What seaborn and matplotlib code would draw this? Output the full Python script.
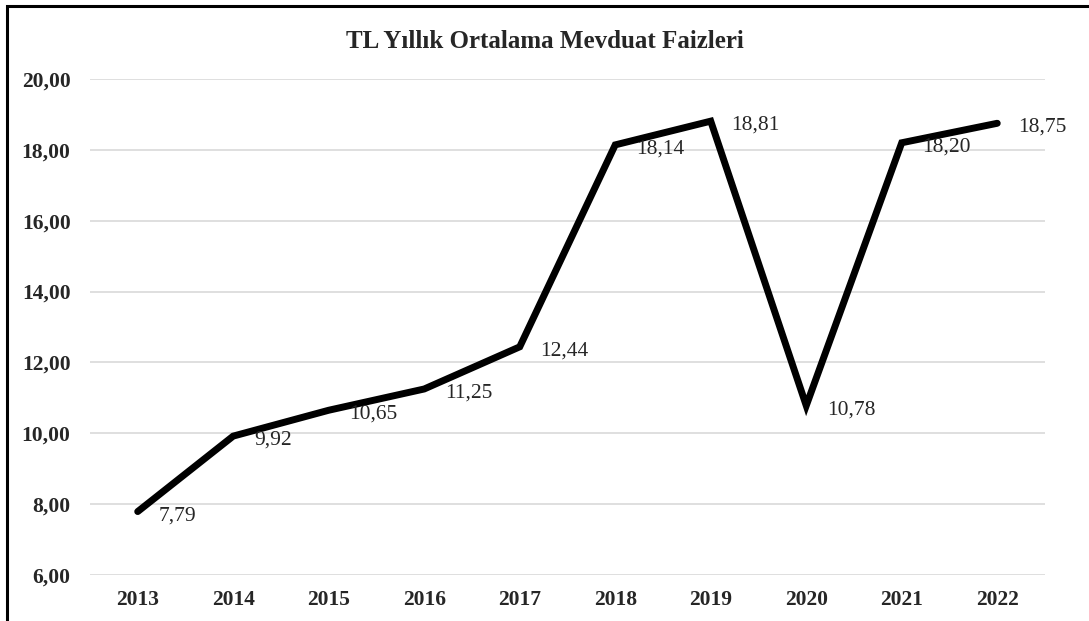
import matplotlib
matplotlib.use("Agg")
import matplotlib.pyplot as plt
import matplotlib.ticker as mticker
from matplotlib.patches import Rectangle
import seaborn as sns
import pandas as pd

years = ["2013", "2014", "2015", "2016", "2017", "2018", "2019", "2020", "2021", "2022"]
rates = [7.79, 9.92, 10.65, 11.25, 12.44, 18.14, 18.81, 10.78, 18.20, 18.75]

sns.set_style("white")
plt.rcParams['font.family'] = ['Liberation Serif', 'DejaVu Serif']

df = pd.DataFrame({"year": years, "rate": rates})

fig = plt.figure(figsize=(10.89, 6.21), dpi=100)
ax = fig.add_axes([0.0826, 0.0741, 0.877, 0.7987])

sns.lineplot(data=df, x="year", y="rate", color="black", linewidth=5,
             sort=False, ax=ax, solid_capstyle="round", solid_joinstyle="miter")

for i, v in enumerate(rates):
    ax.annotate(f"{v:.2f}".replace(".", ","), (i, v), xytext=(15, -3),
                textcoords="offset points", fontsize=15.5, va="center", ha="left")

ax.set_ylim(6, 20)
ax.set_xlim(-0.5, 9.5)
ax.yaxis.set_major_locator(mticker.MultipleLocator(2))
ax.yaxis.set_major_formatter(mticker.FuncFormatter(lambda v, p: f"{v:.2f}".replace(".", ",")))
ax.grid(axis="y", color="#d9d9d9", linewidth=1.2)
ax.set_axisbelow(True)
for s in ax.spines.values():
    s.set_visible(False)
ax.tick_params(axis="both", length=0, labelsize=15.5)
ax.tick_params(axis="y", pad=14)
ax.tick_params(axis="x", pad=11)
for lab in ax.get_xticklabels() + ax.get_yticklabels():
    lab.set_fontweight("bold")
ax.set_xlabel("")
ax.set_ylabel("")

fig.text(0.5, 0.933, "TL Yıllık Ortalama Mevduat Faizleri", ha="center", va="center",
         fontsize=18, fontweight="bold")

# outer frame (only top and left edges show in the picture)
fig.patches.append(Rectangle((0.0064, -0.1), 1.2, 1.09, transform=fig.transFigure,
                             fill=False, edgecolor="black", linewidth=2.2, zorder=10))

fig.savefig("out.png", dpi=100, facecolor="white")
